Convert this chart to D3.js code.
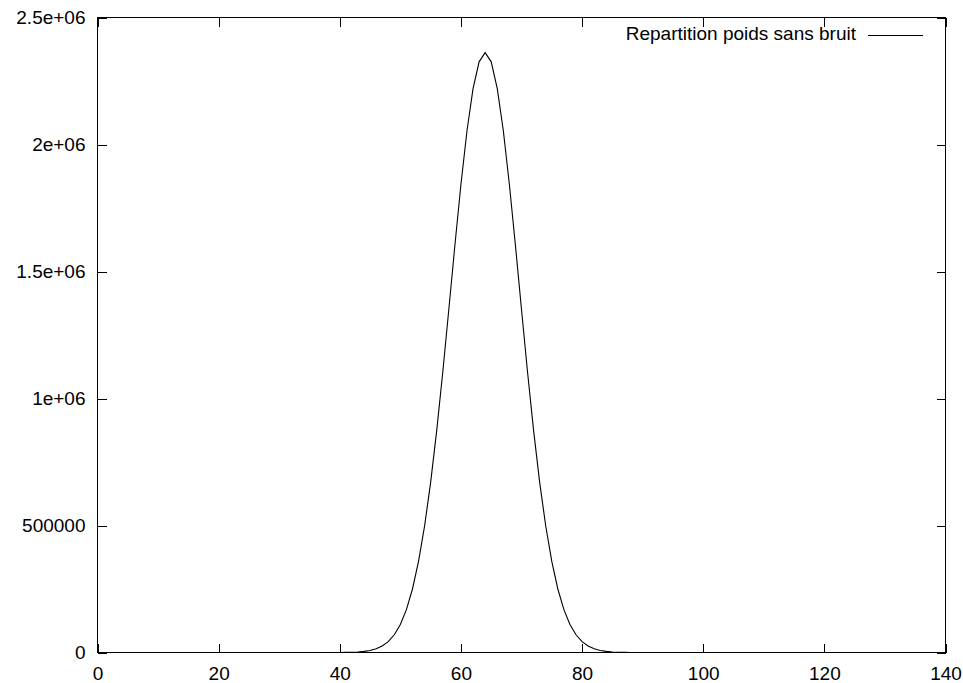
<!DOCTYPE html>
<html>
  <head>
    <meta charset="utf-8">
    <title>Repartition poids sans bruit</title>
    <script src="https://cdn.jsdelivr.net/npm/d3@7"></script>
    <style>
      body { margin: 0; background: #fff; }
      #chart { display: block; width: 963px; height: 683px; }
      text { font-family: "Liberation Sans", Arial, sans-serif; font-size: 19px; fill: #000; }
      .axis path { display: none; }
      .axis line { stroke: #000; stroke-width: 1; shape-rendering: crispEdges; }
      #frame { fill: none; stroke: #000; stroke-width: 1; shape-rendering: crispEdges; }
      #dataLine { fill: none; stroke: #000; stroke-width: 1.1; }
      #legendLine { stroke: #000; stroke-width: 1; shape-rendering: crispEdges; }
    </style>
  </head>

  <body>
    <svg id="chart">
      <g id="xAxisGroup" class="axis"></g>
      <g id="yAxisGroup" class="axis"></g>
      <g id="topAxisGroup" class="axis"></g>
      <g id="rightAxisGroup" class="axis"></g>
      <rect id="frame"></rect>
      <path id="dataLine"></path>
      <g id="legend">
        <text id="legendLabel" text-anchor="end">Repartition poids sans bruit</text>
        <line id="legendLine"></line>
      </g>
    </svg>

    <script>
      // data: weight distribution, one value per weight 0..128
      seriesName = "Repartition poids sans bruit";
      counts = [
        0, 0, 0, 0, 0, 0, 0, 0, 0, 0,
        0, 0, 0, 0, 0, 0, 0, 0, 0, 0,
        0, 0, 0, 0, 0, 0, 0, 0, 0, 0,
        0, 0, 0, 0, 1, 3, 8, 20, 49, 113,
        251, 539, 1117, 2234, 4316, 8057, 14537, 25362, 42799, 69876,
        110404, 168853, 250032, 358537, 497968, 669994, 873386, 1103225, 1350500, 1602289,
        1842632, 2054081, 2219733, 2325435, 2361770, 2325435, 2219733, 2054081, 1842632, 1602289,
        1350500, 1103225, 873386, 669994, 497968, 358537, 250032, 168853, 110404, 69876,
        42799, 25362, 14537, 8057, 4316, 2234, 1117, 539, 251, 113,
        49, 20, 8, 3, 1, 0, 0, 0, 0, 0,
        0, 0, 0, 0, 0, 0, 0, 0, 0, 0,
        0, 0, 0, 0, 0, 0, 0, 0, 0, 0,
        0, 0, 0, 0, 0, 0, 0, 0, 0
      ];
      xTicks = [0, 20, 40, 60, 80, 100, 120, 140];
      yTicks = [0, 500000, 1000000, 1500000, 2000000, 2500000];
      yTickLabels = ["0", "500000", "1e+06", "1.5e+06", "2e+06", "2.5e+06"];

      chartData = counts.map((v, i) => ({ weight: i, count: v }));

      // elements
      chart = d3.select("#chart");
      xAxisGroup = d3.select("#xAxisGroup");
      yAxisGroup = d3.select("#yAxisGroup");
      topAxisGroup = d3.select("#topAxisGroup");
      rightAxisGroup = d3.select("#rightAxisGroup");
      frame = d3.select("#frame");
      dataLine = d3.select("#dataLine");
      legendLabel = d3.select("#legendLabel");
      legendLine = d3.select("#legendLine");

      width = 963;
      height = 683;
      margin = { top: 17.5, right: 17.5, bottom: 30.5, left: 97.5 };
      tickLength = 9;

      x = d3.scaleLinear()
        .domain([0, 140])
        .range([margin.left, width - margin.right]);
      y = d3.scaleLinear()
        .domain([0, 2500000])
        .range([height - margin.bottom, margin.top]);

      xAxis = d3.axisBottom(x)
        .tickValues(xTicks)
        .tickFormat(d3.format("d"))
        .tickSizeInner(-tickLength)
        .tickSizeOuter(0)
        .tickPadding(14);
      yAxis = d3.axisLeft(y)
        .tickValues(yTicks)
        .tickFormat((d, i) => yTickLabels[i])
        .tickSizeInner(-tickLength)
        .tickSizeOuter(0)
        .tickPadding(12);
      topAxis = d3.axisTop(x)
        .tickValues(xTicks)
        .tickFormat("")
        .tickSizeInner(-tickLength)
        .tickSizeOuter(0);
      rightAxis = d3.axisRight(y)
        .tickValues(yTicks)
        .tickFormat("")
        .tickSizeInner(-tickLength)
        .tickSizeOuter(0);

      xAxisGroup.attr("transform", "translate(0, " + (height - margin.bottom) + ")")
        .call(xAxis);
      yAxisGroup.attr("transform", "translate(" + margin.left + ", 0)")
        .call(yAxis);
      topAxisGroup.attr("transform", "translate(0, " + margin.top + ")")
        .call(topAxis);
      rightAxisGroup.attr("transform", "translate(" + (width - margin.right) + ", 0)")
        .call(rightAxis);

      // drop the axis' own font settings so the css applies
      chart.selectAll(".axis").attr("font-family", null).attr("font-size", null);
      chart.selectAll(".axis text").attr("fill", "#000");

      frame.attr("x", margin.left)
        .attr("y", margin.top)
        .attr("width", width - margin.right - margin.left)
        .attr("height", height - margin.bottom - margin.top);

      line = d3.line()
        .x(d => x(d.weight))
        .y(d => y(d.count));
      dataLine.attr("d", line(chartData));

      // legend
      legendLabel.attr("x", 856)
        .attr("y", 40)
        .text(seriesName);
      legendLine.attr("x1", 868)
        .attr("x2", 923)
        .attr("y1", 35.5)
        .attr("y2", 35.5);
    </script>
  </body>
</html>
